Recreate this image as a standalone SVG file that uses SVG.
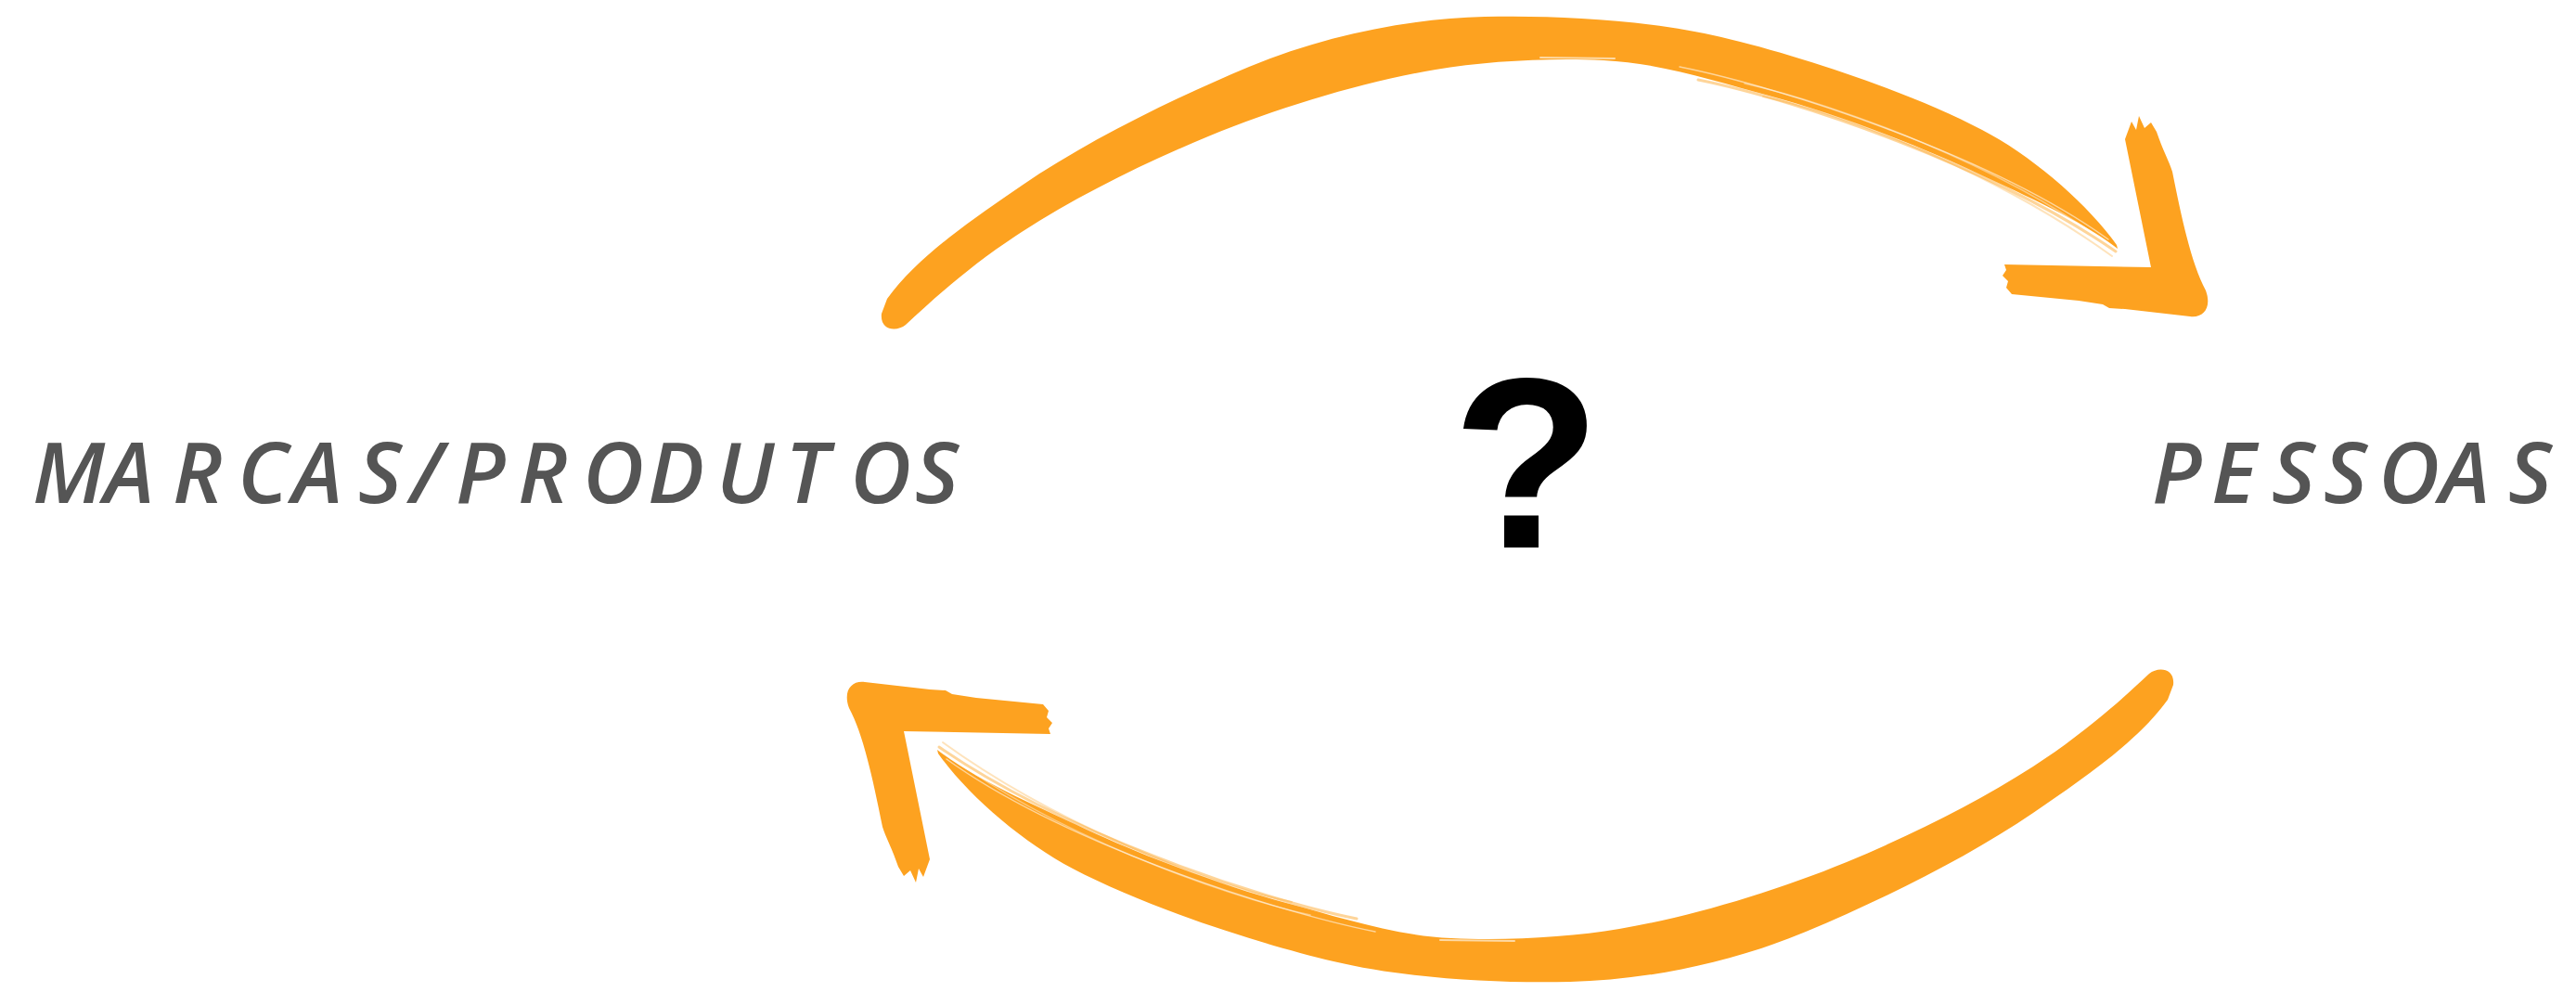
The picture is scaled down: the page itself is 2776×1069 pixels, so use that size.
<svg xmlns="http://www.w3.org/2000/svg" xmlns:xlink="http://www.w3.org/1999/xlink" width="2776" height="1069" viewBox="0 0 2776 1069">
  <style>
    .label { font-family: "Open Sans", "Liberation Sans", sans-serif; font-style: italic; font-weight: 600; font-size: 91px; fill: #555555; }
    .q { font-family: "Liberation Sans", Arial, sans-serif; font-weight: 700; font-size: 262px; fill: #000000; }
    .brush { fill: #FDA220; }
    .streak { fill: none; stroke: #FDA220; stroke-linecap: round; }
    .gap { fill: none; stroke: #FFFFFF; stroke-linecap: round; }
  </style>
  <defs>
    <g id="brushArrow">
      <path class="brush" d="M 950,338 L 956,322 C 990,275 1050,235 1101,200 C 1170,153 1260,108 1346,72 C 1430,37 1520,20 1600,18 C 1680,16 1780,22 1855,40 C 1940,60 2060,100 2136,140 C 2190,168 2250,220 2281,264 L 2282,268 C 2240,235 2170,205 2110,177 C 2050,150 1970,120 1906,103 C 1850,88 1790,68 1728,65 C 1670,62 1600,66 1547,75 C 1470,88 1380,115 1302,147 C 1230,177 1160,212 1101,250 C 1050,283 1010,318 976,350 C 966,358 948,356 950,338 Z"/>
      <path class="gap" stroke-width="1.5" opacity="0.55" d="M 1810,72 C 1925,95 2150,170 2272,258"/>
      <path class="gap" stroke-width="1.5" opacity="0.4" d="M 1880,90 C 1980,112 2160,180 2270,262"/>
      <path class="streak" stroke-width="3" opacity="0.45" d="M 1830,86 C 1940,108 2150,181 2280,271"/>
      <path class="streak" stroke-width="2" opacity="0.3" d="M 1900,104 C 2000,126 2160,192 2276,276"/>
      <path class="gap" stroke-width="2" opacity="0.6" d="M 1660,62 L 1740,63"/>
      <path class="brush" d="M 2160,285 L 2318,288 L 2290,150 L 2297,131 L 2302,140 L 2305,125 L 2311,138 L 2318,132 L 2324,142 C 2330,160 2338,175 2341,185 C 2352,240 2362,285 2377,313 C 2384,332 2374,343 2360,341 L 2290,333 L 2273,332 L 2266,328 L 2240,324 L 2168,317 L 2162,310 L 2164,303 L 2158,297 L 2162,291 Z"/>
    </g>
  </defs>
  <rect width="2776" height="1069" fill="#FFFFFF"/>
  <g id="connectors">
    <use id="arrow-to-pessoas" xlink:href="#brushArrow" href="#brushArrow"/>
    <use id="arrow-to-marcas" xlink:href="#brushArrow" href="#brushArrow" transform="rotate(180 1646 538)"/>
  </g>
  <g id="node-marcas">
    <text class="label" x="35 112 186 256 315 386 442 491 558 628 698 772 846 916 986" y="542">MARCAS/PRODUTOS</text>
  </g>
  <g id="node-pessoas">
    <text class="label" x="2319 2383 2448 2504 2563 2629 2703" y="542">PESSOAS</text>
  </g>
  <g id="node-question">
    <text class="q" x="1645" y="590" text-anchor="middle">?</text>
  </g>
</svg>
